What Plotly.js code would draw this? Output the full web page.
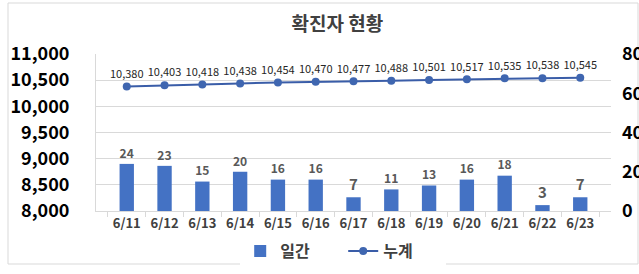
<!DOCTYPE html>
<html><head><meta charset="utf-8">
<script src="https://cdn.plot.ly/plotly-3.0.1.min.js"></script>
<style>html,body{margin:0;padding:0;background:#fff;}#c{width:639px;height:274px;}</style>
</head><body><div id="c"></div>
<script>
const dates = ['6/11','6/12','6/13','6/14','6/15','6/16','6/17','6/18','6/19','6/20','6/21','6/22','6/23'];
const daily = [24,23,15,20,16,16,7,11,13,16,18,3,7];
const cumulative = [10380,10403,10418,10438,10454,10470,10477,10488,10501,10517,10535,10538,10545];
const title = '확진자 현황';
const dailyName = '일간';
const cumName = '누계';

const F = '"Noto Sans CJK KR", "Malgun Gothic", sans-serif';
const fmt = v => v.toLocaleString('en-US');

const traces = [
  {type:'bar', x:dates, y:daily, name:dailyName, yaxis:'y2',
   marker:{color:'#4472C4'}, width:0.38,
   text:daily.map(String), textposition:'outside', cliponaxis:false,
   textfont:{family:F, size:15, color:'#595959', weight:'bold'}},
  {type:'scatter', mode:'lines+markers+text', x:dates, y:cumulative, name:cumName,
   line:{color:'#3A5DA8', width:2}, marker:{color:'#3F66B0', size:8},
   text:cumulative.map(fmt), textposition:'top center', cliponaxis:false,
   textfont:{family:F, size:11, color:'#262626'}}
];

const layout = {
  width:639, height:274,
  margin:{l:96, r:28, t:54, b:63, autoexpand:false},
  paper_bgcolor:'#fff', plot_bgcolor:'#fff',
  font:{family:F, color:'#404040'},
  title:{text:title, x:0.528, xanchor:'center', y:0.912, yanchor:'middle', automargin:false,
         font:{family:F, size:19, color:'#404040', weight:'bold'}},
  showlegend:true,
  legend:{orientation:'h', x:0.28, xanchor:'left', y:-0.255, yanchor:'middle',
          entrywidth:58, itemwidth:30,
          font:{family:F, size:16, color:'#404040', weight:'bold'}, traceorder:'normal'},
  xaxis:{type:'category', automargin:false, showgrid:false, showline:true, linecolor:'#d9d9d9', linewidth:1,
         ticks:'outside', tickson:'boundaries', ticklen:5, tickcolor:'#d9d9d9',
         tickfont:{family:F, size:13, color:'#404040', weight:'bold'}, fixedrange:true},
  yaxis:{range:[8000,11000], dtick:500, tickformat:',', automargin:false, showgrid:true, gridcolor:'#d9d9d9',
         showline:true, linecolor:'#d9d9d9', zeroline:false, ticks:'', ticklabelstandoff:22,
         tickfont:{family:F, size:18, color:'#000', weight:'bold'}},
  yaxis2:{range:[0,80], dtick:20, overlaying:'y', side:'right', automargin:false, showgrid:false, zeroline:false,
          showline:false, ticks:'', ticklabelstandoff:10,
          tickfont:{family:F, size:18, color:'#000', weight:'bold'}},
  shapes:[{type:'rect', xref:'paper', yref:'paper', x0:(8-96)/515, x1:(638-96)/515,
           y0:(211-264)/157, y1:(211-3)/157, line:{color:'#d9d9d9', width:1}, layer:'below'}]
};
Plotly.newPlot('c', traces, layout, {displayModeBar:false, staticPlot:true});
</script></body></html>
